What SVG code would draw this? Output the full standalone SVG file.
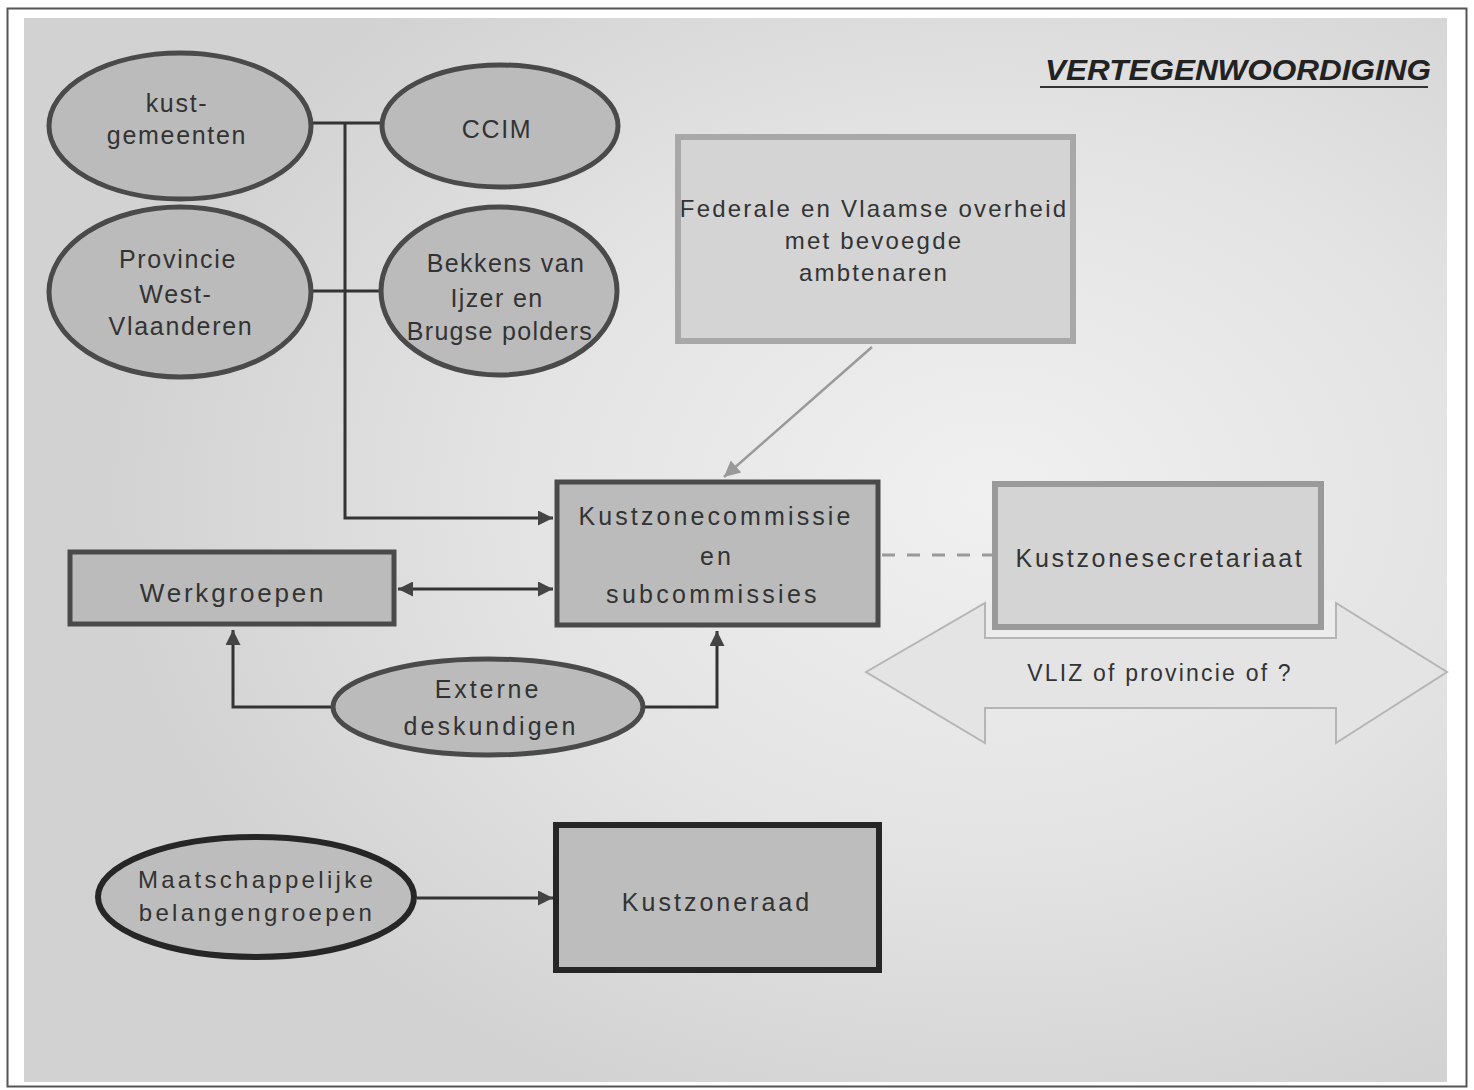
<svg xmlns="http://www.w3.org/2000/svg" width="1474" height="1090" viewBox="0 0 1474 1090">
<defs>
<radialGradient id="bg" cx="0.68" cy="0.45" r="0.62">
<stop offset="0" stop-color="#f0f0f0"/>
<stop offset="0.55" stop-color="#e3e3e3"/>
<stop offset="1" stop-color="#d2d2d2"/>
</radialGradient>
<marker id="ahd" viewBox="0 0 10 10" refX="10" refY="5" markerWidth="16" markerHeight="15" markerUnits="userSpaceOnUse" orient="auto-start-reverse">
<path d="M0,0 L10,5 L0,10 z" fill="#444"/>
</marker>
<marker id="ahg" viewBox="0 0 10 10" refX="10" refY="5" markerWidth="18" markerHeight="16" markerUnits="userSpaceOnUse" orient="auto">
<path d="M0,0 L10,5 L0,10 z" fill="#999"/>
</marker>
</defs>
<style>
text{font-family:"Liberation Sans",Arial,sans-serif;fill:#333;font-size:25px;text-anchor:middle;letter-spacing:2.8px}
.el text{letter-spacing:1.7px}
.dark{fill:#bbbbbb;stroke:#4a4a4a;stroke-width:5}
.black{fill:#bdbdbd;stroke:#262626;stroke-width:6}
.light{fill:#d4d4d4;stroke:#a8a8a8;stroke-width:6}
.conn{fill:none;stroke:#333;stroke-width:3}
</style>
<rect x="0" y="0" width="1474" height="1090" fill="#ffffff"/>
<rect x="7.5" y="8.5" width="1459" height="1078" fill="none" stroke="#555" stroke-width="2"/>
<rect x="24" y="18" width="1423" height="1064" fill="url(#bg)"/>

<g id="title">
<text x="1045" y="80" style="font-size:30px;font-weight:bold;font-style:italic;fill:#222;text-anchor:start;letter-spacing:0" textLength="386" lengthAdjust="spacingAndGlyphs">VERTEGENWOORDIGING</text>
<line x1="1040" y1="87" x2="1428" y2="87" stroke="#333" stroke-width="2"/>
</g>

<g id="connectors">
<line class="conn" x1="311" y1="123" x2="383" y2="123"/>
<line class="conn" x1="311" y1="291" x2="382" y2="291"/>
<polyline class="conn" points="345,123 345,518 553,518" marker-end="url(#ahd)"/>
<line class="conn" x1="398" y1="589" x2="553" y2="589" marker-start="url(#ahd)" marker-end="url(#ahd)"/>
<line x1="872" y1="347" x2="724" y2="477" stroke="#999" stroke-width="2.5" marker-end="url(#ahg)"/>
<line x1="882" y1="555" x2="993" y2="555" stroke="#999" stroke-width="3" stroke-dasharray="13,12"/>
<polyline class="conn" points="333,707 233,707 233,630" marker-end="url(#ahd)"/>
<polyline class="conn" points="643,707 717,707 717,631" marker-end="url(#ahd)"/>
<line class="conn" x1="417" y1="898" x2="553" y2="898" marker-end="url(#ahd)"/>
</g>

<g id="node-kustgemeenten" class="el">
<ellipse class="dark" cx="180" cy="126" rx="131" ry="73"/>
<text x="177" y="112">kust-</text>
<text x="177" y="144">gemeenten</text>
</g>
<g id="node-ccim" class="el">
<ellipse class="dark" cx="500" cy="126" rx="118" ry="61"/>
<text x="497" y="138">CCIM</text>
</g>
<g id="node-provincie" class="el">
<ellipse class="dark" cx="180" cy="292" rx="131" ry="85"/>
<text x="178" y="268">Provincie</text>
<text x="176" y="303">West-</text>
<text x="181" y="335">Vlaanderen</text>
</g>
<g id="node-bekkens" class="el">
<ellipse class="dark" cx="499" cy="291" rx="118" ry="84"/>
<text x="506" y="272" style="letter-spacing:1.4px">Bekkens van</text>
<text x="497" y="307" style="letter-spacing:1.4px">Ijzer en</text>
<text x="500" y="340" style="letter-spacing:1.3px">Brugse polders</text>
</g>

<g id="node-federale">
<rect class="light" x="678" y="137" width="395" height="204"/>
<text x="874" y="217" style="font-size:24px;letter-spacing:2.2px">Federale en Vlaamse overheid</text>
<text x="874" y="249" style="font-size:24px;letter-spacing:2.2px">met bevoegde</text>
<text x="874" y="281" style="font-size:24px;letter-spacing:2.2px">ambtenaren</text>
</g>

<g id="node-kustzonecommissie">
<rect class="dark" x="557" y="482" width="321" height="143"/>
<text x="716" y="525" style="letter-spacing:3.1px">Kustzonecommissie</text>
<text x="717" y="565" style="letter-spacing:3.1px">en</text>
<text x="713" y="603" style="letter-spacing:3.3px">subcommissies</text>
</g>

<g id="node-vliz">
<path d="M866,672 L985,603 L985,638 L1336,638 L1336,603 L1447,672 L1336,743 L1336,708 L985,708 L985,743 Z" fill="#e4e4e4" stroke="#b5b5b5" stroke-width="2"/>
<text x="1160" y="681" style="font-size:23px;letter-spacing:2.2px">VLIZ of provincie of ?</text>
</g>

<g id="node-kustzonesecretariaat">
<rect x="986" y="600" width="349" height="37" fill="#ececec"/>
<rect class="light" x="995" y="484" width="326" height="143" style="stroke:#9a9a9a"/>
<text x="1160" y="567" style="letter-spacing:2.7px">Kustzonesecretariaat</text>
</g>

<g id="node-werkgroepen">
<rect class="dark" x="70" y="552" width="324" height="72"/>
<text x="233" y="602" style="font-size:26px;letter-spacing:2.8px">Werkgroepen</text>
</g>

<g id="node-externe">
<ellipse class="dark" cx="488" cy="707" rx="155" ry="48"/>
<text x="488" y="698" style="letter-spacing:2.9px">Externe</text>
<text x="491" y="735" style="letter-spacing:3px">deskundigen</text>
</g>

<g id="node-maatschappelijke">
<ellipse class="black" cx="256" cy="897" rx="158" ry="60"/>
<text x="257" y="888" style="font-size:24px;letter-spacing:3.3px">Maatschappelijke</text>
<text x="257" y="921" style="font-size:24px;letter-spacing:3.3px">belangengroepen</text>
</g>

<g id="node-kustzoneraad">
<rect class="black" x="556" y="825" width="323" height="145"/>
<text x="717" y="911" style="letter-spacing:3px">Kustzoneraad</text>
</g>
</svg>
